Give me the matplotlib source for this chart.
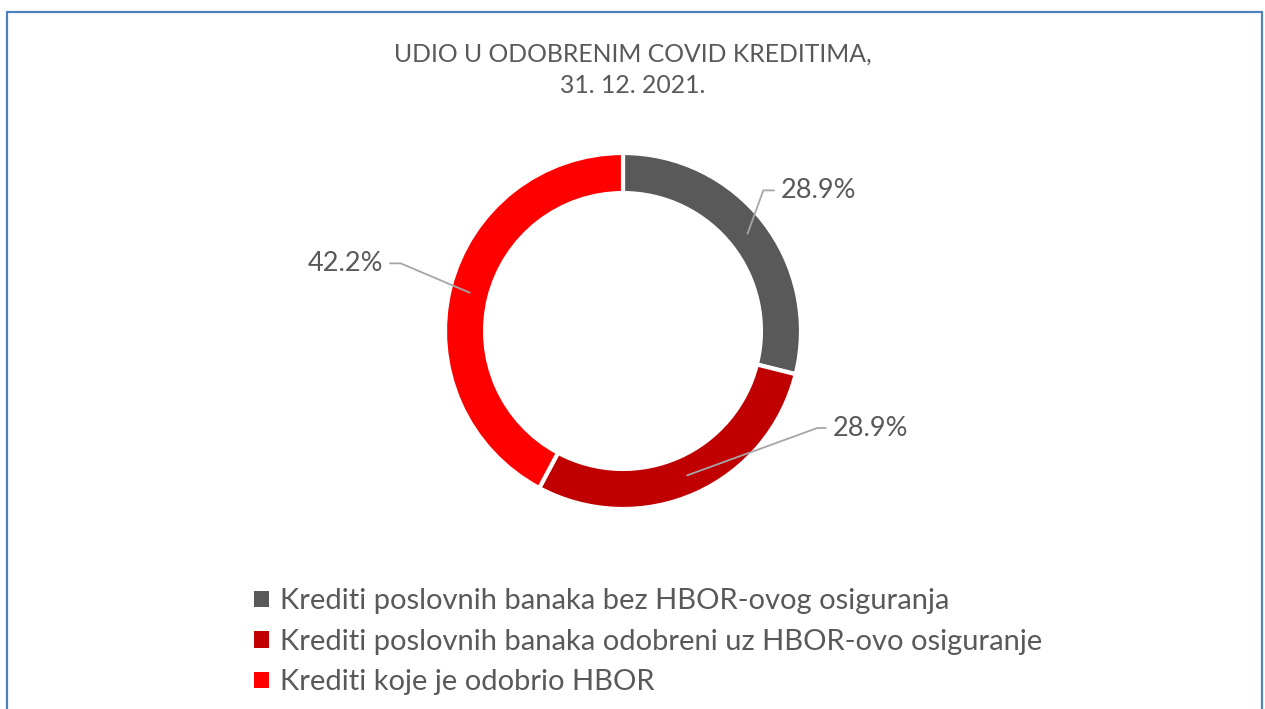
import matplotlib
matplotlib.use("Agg")
import numpy as np
import matplotlib.pyplot as plt
from matplotlib.patches import Rectangle

title = "UDIO U ODOBRENIM COVID KREDITIMA,\n31. 12. 2021."
categories = ["Krediti poslovnih banaka bez HBOR-ovog osiguranja",
              "Krediti poslovnih banaka odobreni uz HBOR-ovo osiguranje",
              "Krediti koje je odobrio HBOR"]
shares = [28.9, 28.9, 42.2]
colors = ["#595959", "#C00000", "#FF0000"]

# label placement (text position in data units, angle of the leader)
label_xy = [(1.10, 0.79), (1.39, -0.545), (-1.56, 0.38)]
leader_angle = [70, 20, -23]

plt.rcParams['font.family'] = ['Lato', 'DejaVu Sans']
txt_col = "#595959"

W, H = 1265, 709
fig = plt.figure(figsize=(W / 100, H / 100), dpi=100)

cx, cy, R = 623, 331, 178
half = 200
ax = fig.add_axes([(cx - half) / W, (H - cy - half) / H, 2 * half / W, 2 * half / H])

wedges, _ = ax.pie(shares, colors=colors, startangle=90, counterclock=False,
                   radius=1, wedgeprops=dict(width=0.225, edgecolor="white", linewidth=3))
lim = half / R
ax.set_xlim(-lim, lim)
ax.set_ylim(-lim, lim)
ax.set_aspect("equal")
ax.axis("off")

rmid = 1 - 0.225 / 2
for w, v, xy, ang in zip(wedges, shares, label_xy, leader_angle):
    theta = np.deg2rad((w.theta1 + w.theta2) / 2)
    pt = (rmid * np.cos(theta), rmid * np.sin(theta))
    ax.annotate(f"{v:.1f}%", xy=pt, xytext=xy, ha="center", va="center",
                fontsize=19.5, color=txt_col, annotation_clip=False,
                arrowprops=dict(arrowstyle="-", color="#a6a6a6", lw=1.3,
                                shrinkA=3, shrinkB=0,
                                connectionstyle=f"angle,angleA=0,angleB={ang},rad=0"))

fig.text(633 / W, 1 - 70 / H, title, ha="center", va="center", fontsize=17.8,
         color=txt_col, linespacing=1.45)

handles = [Rectangle((0, 0), 1, 1, facecolor=c) for c in colors]
fig.legend(handles, categories, loc="upper left", bbox_to_anchor=(228 / W, 1 - 562 / H),
           frameon=False, fontsize=21, labelcolor=txt_col, handlelength=0.5,
           handleheight=0.5, handletextpad=0.4, labelspacing=0.5)

fig.patches.append(Rectangle((7.5 / W, -0.05), (1262 - 7.5) / W, 1.05 - 11.5 / H,
                             transform=fig.transFigure, fill=False,
                             edgecolor="#4f81bd", linewidth=1.6))

fig.savefig("out.png", dpi=100)
